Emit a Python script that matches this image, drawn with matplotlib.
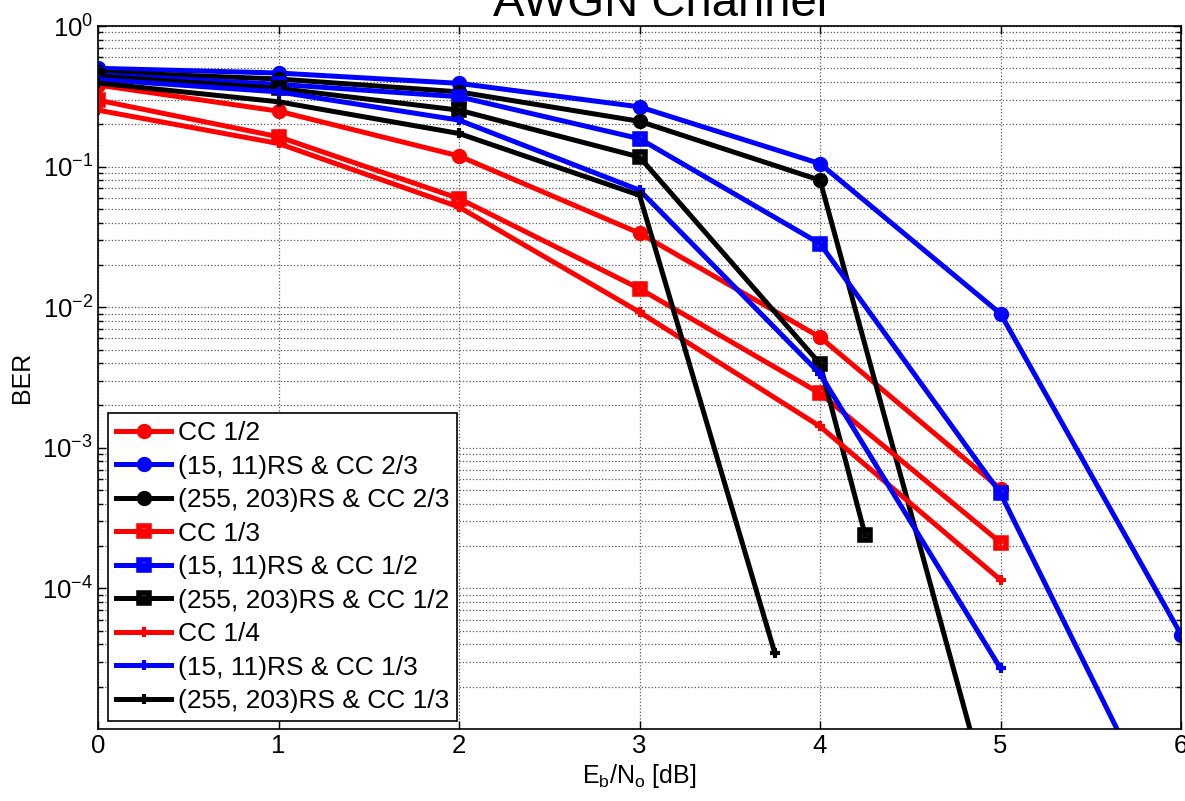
import matplotlib
matplotlib.use("Agg")
import matplotlib.pyplot as plt
import matplotlib.ticker as mtick

# Eb/No points [dB]
x_full = [0, 1, 2, 3, 4, 5, 6]
x_five = [0, 1, 2, 3, 4, 5]
x_rs255_cc12 = [0, 1, 2, 3, 4, 4.25]
x_rs255_cc13 = [0, 1, 2, 3, 3.75]

# BER values
cc12 = [0.38, 0.248, 0.119, 0.0336, 0.00612, 5.1e-4]
rs15_cc23 = [0.50, 0.463, 0.391, 0.266, 0.105, 0.0090, 4.7e-5]
rs255_cc23 = [0.47, 0.42, 0.34, 0.21, 0.08, 1.6e-6]
cc13 = [0.297, 0.163, 0.0593, 0.01355, 0.00244, 2.12e-4]
rs15_cc12 = [0.45, 0.385, 0.314, 0.158, 0.0283, 4.74e-4, 1.2e-6]
rs255_cc12 = [0.44, 0.36, 0.252, 0.117, 0.00396, 2.4e-4]
cc14 = [0.252, 0.146, 0.0516, 0.00923, 0.00142, 1.15e-4]
rs15_cc13 = [0.417, 0.34, 0.214, 0.068, 0.00336, 2.7e-5]
rs255_cc13 = [0.393, 0.289, 0.172, 0.0626, 3.46e-5]

labels = ["CC 1/2", "(15, 11)RS & CC 2/3", "(255, 203)RS & CC 2/3",
          "CC 1/3", "(15, 11)RS & CC 1/2", "(255, 203)RS & CC 1/2",
          "CC 1/4", "(15, 11)RS & CC 1/3", "(255, 203)RS & CC 1/3"]

plt.rcParams["font.family"] = ["Liberation Sans", "DejaVu Sans"]
plt.rcParams["mathtext.fontset"] = "custom"
plt.rcParams["mathtext.rm"] = "Liberation Sans"
plt.rcParams["mathtext.it"] = "Liberation Sans:italic"


def main():
    fig = plt.figure(figsize=(11.85, 8.01), dpi=100)
    ax = fig.add_axes([98 / 1185, 72 / 801, 1083 / 1185, 703 / 801])

    series = [
        (x_five, cc12, "red", "o"),
        (x_full, rs15_cc23, "blue", "o"),
        (x_five, rs255_cc23, "black", "o"),
        (x_five, cc13, "red", "s"),
        (x_full, rs15_cc12, "blue", "s"),
        (x_rs255_cc12, rs255_cc12, "black", "s"),
        (x_five, cc14, "red", "+"),
        (x_five, rs15_cc13, "blue", "+"),
        (x_rs255_cc13, rs255_cc13, "black", "+"),
    ]
    for (xs, ys, c, m), lab in zip(series, labels):
        if m == "+":
            ax.semilogy(xs, ys, color=c, marker=m, linewidth=3.6, markersize=7,
                        markeredgewidth=3, label=lab)
        else:
            ax.semilogy(xs, ys, color=c, marker=m, linewidth=3.6, markersize=7,
                        markeredgewidth=4, markerfacecolor="none", label=lab)

    ax.set_xlim(0, 6)
    ax.set_ylim(1e-5, 1)
    ax.set_xticks([0, 1, 2, 3, 4, 5, 6])
    ax.set_yticks([1e-4, 1e-3, 1e-2, 1e-1, 1])
    ax.yaxis.set_minor_locator(mtick.LogLocator(base=10, subs=range(2, 10), numticks=20))
    ax.yaxis.set_minor_formatter(mtick.NullFormatter())

    ax.grid(True, which="major", color="0.35", linestyle=":", linewidth=0.9)
    ax.grid(True, which="minor", axis="y", color="0.35", linestyle=":", linewidth=0.9)
    ax.tick_params(which="both", direction="in", top=True, right=True, labelsize=18.5)
    ax.tick_params(which="major", length=6, width=1)
    ax.tick_params(which="minor", length=3.5, width=1)
    for sp in ax.spines.values():
        sp.set_linewidth(1.2)

    ax.set_xlabel(r"E$_\mathregular{b}$/N$_\mathregular{o}$ [dB]", fontsize=18, labelpad=3)
    ax.set_ylabel("BER", fontsize=18, labelpad=6)
    ax.set_title("AWGN Channel", fontsize=34, x=0.519, pad=5)

    leg = ax.legend(loc="lower left", bbox_to_anchor=(0.0092, 0.0114), borderaxespad=0,
                    fontsize=19, numpoints=1, handlelength=2.1, handletextpad=0.25,
                    labelspacing=0.36, borderpad=0.3, fancybox=False, framealpha=1)
    leg.get_frame().set_edgecolor("black")
    leg.get_frame().set_linewidth(1.2)

    fig.savefig("out.png", dpi=100)


if __name__ == "__main__":
    main()
